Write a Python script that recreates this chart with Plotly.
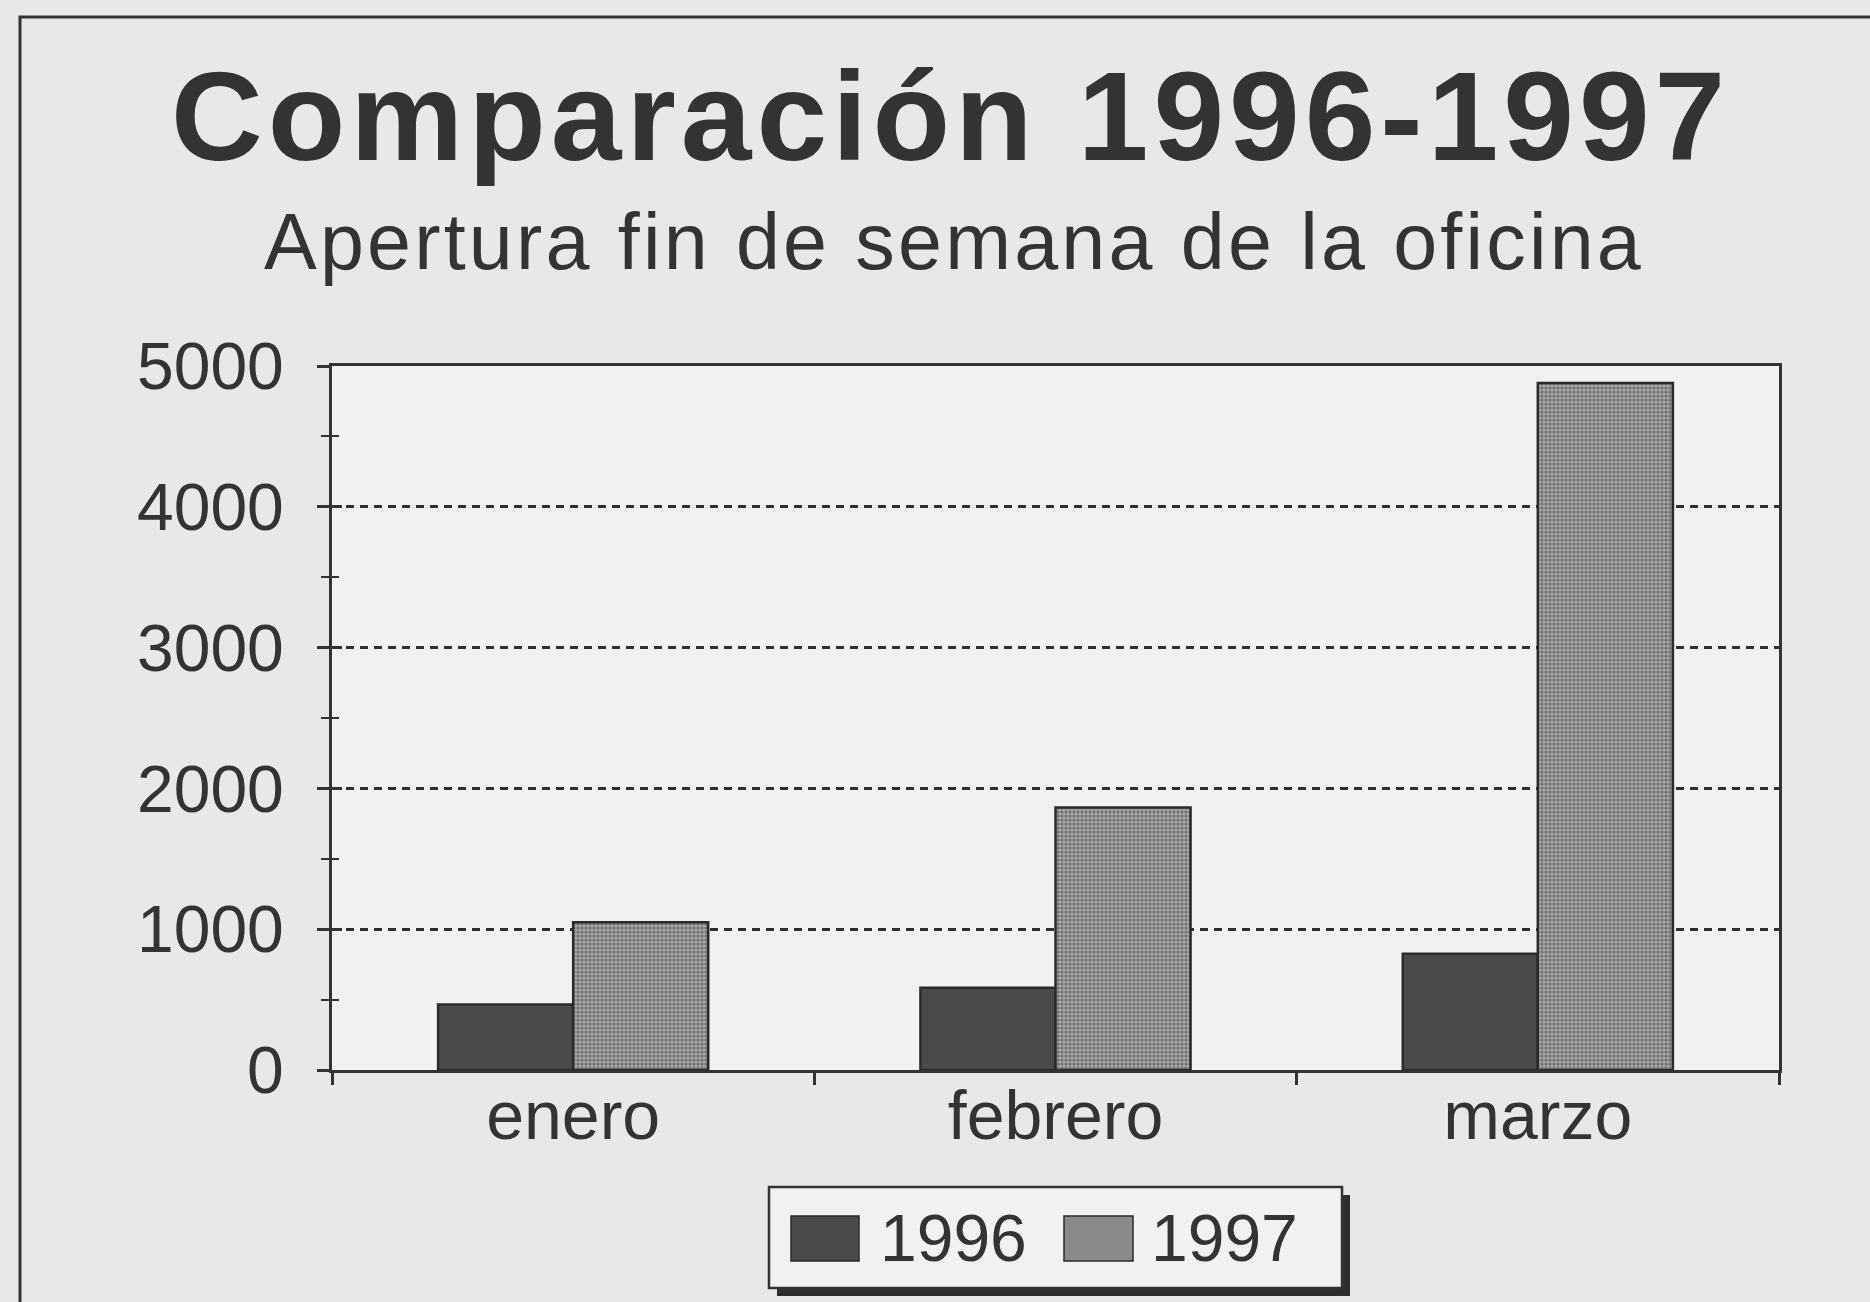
import plotly.graph_objects as go

# ---- data ----
categories = ["enero", "febrero", "marzo"]
series_names = ["1996", "1997"]
values_1996 = [465, 585, 825]
values_1997 = [1050, 1865, 4880]
y_ticks = [0, 1000, 2000, 3000, 4000, 5000]
title_text = "Comparación 1996-1997"
subtitle_text = "Apertura fin de semana de la oficina"

# ---- layout geometry (pixels) ----
W, H = 1870, 1302
L, R, T, B = 332, 1870 - 1779, 366, 1302 - 1070
PW, PH = W - L - R, H - T - B


def px(x):
    return (x - L) / PW


def py(y):
    return (H - B - y) / PH


FONT = "Liberation Sans, Arial, Helvetica, sans-serif"
INK = "#333333"
DARK = "#4a4a4a"

fig = go.Figure()
fig.add_trace(go.Bar(
    x=categories, y=values_1996, name=series_names[0],
    marker=dict(color=DARK, line=dict(color="#2a2a2a", width=2.5)),
))
fig.add_trace(go.Bar(
    x=categories, y=values_1997, name=series_names[1],
    marker=dict(color="#a2a2a2", line=dict(color="#2a2a2a", width=2.5),
                pattern=dict(shape=".", fgcolor="#3c3c3c", bgcolor="#a6a6a6",
                             size=4, solidity=0.5)),
))
# carrier for the inner half of the crossing value-axis ticks (no marks)
fig.add_trace(go.Scatter(x=[], y=[], yaxis="y2", showlegend=False, hoverinfo="skip"))

shapes = []
# outer frame of the picture (extends past right/bottom edge)
shapes.append(dict(type="rect", xref="paper", yref="paper",
                   x0=px(20), x1=px(1900), y0=py(1330), y1=py(17),
                   line=dict(color=INK, width=3), layer="below"))
# legend box with shadow
lx0, lx1, ly0, ly1 = 769, 1342, 1187, 1288
shapes.append(dict(type="rect", xref="paper", yref="paper",
                   x0=px(lx0 + 8), x1=px(lx1 + 8), y0=py(ly1 + 8), y1=py(ly0 + 8),
                   fillcolor="#2e2e2e", line=dict(width=0)))
shapes.append(dict(type="rect", xref="paper", yref="paper",
                   x0=px(lx0), x1=px(lx1), y0=py(ly1), y1=py(ly0),
                   fillcolor="#f1f1f1", line=dict(color=INK, width=2.5)))
# legend swatches
shapes.append(dict(type="rect", xref="paper", yref="paper",
                   x0=px(791), x1=px(859), y0=py(1261), y1=py(1216),
                   fillcolor=DARK, line=dict(color="#2a2a2a", width=1.5)))
shapes.append(dict(type="rect", xref="paper", yref="paper",
                   x0=px(1064), x1=px(1133), y0=py(1261), y1=py(1216),
                   fillcolor="#8a8a8a", line=dict(color="#2a2a2a", width=1.5)))

annotations = [
    dict(text='<b><span style="letter-spacing:5px">' + title_text + "</span></b>",
         xref="paper", yref="paper",
         x=px(950), y=py(116), xanchor="center", yanchor="middle",
         showarrow=False, font=dict(family=FONT, size=127, color=INK)),
    dict(text='<span style="letter-spacing:3.2px">' + subtitle_text + "</span>",
         xref="paper", yref="paper",
         x=px(954), y=py(241), xanchor="center", yanchor="middle",
         showarrow=False, font=dict(family=FONT, size=79, color=INK)),
    dict(text=series_names[0], xref="paper", yref="paper",
         x=px(878), y=py(1238), xanchor="left", yanchor="middle",
         showarrow=False, font=dict(family=FONT, size=66, color=INK)),
    dict(text=series_names[1], xref="paper", yref="paper",
         x=px(1149), y=py(1238), xanchor="left", yanchor="middle",
         showarrow=False, font=dict(family=FONT, size=66, color=INK)),
]

fig.update_layout(
    width=W, height=H,
    margin=dict(l=L, r=R, t=T, b=B, pad=0),
    paper_bgcolor="#e8e8e8",
    plot_bgcolor="#f1f1f1",
    barmode="group",
    bargap=0.44,
    bargroupgap=0,
    showlegend=False,
    font=dict(family=FONT, color=INK, size=66),
    shapes=shapes,
    annotations=annotations,
)
fig.update_xaxes(
    type="category", tickson="boundaries",
    ticks="outside", ticklen=12, tickwidth=3, tickcolor=INK,
    showline=True, linecolor=INK, linewidth=3, mirror=True,
    showgrid=False, tickfont=dict(size=68, color=INK),
    ticklabelstandoff=-16,
)
fig.update_layout(yaxis=dict(
    range=[0, 5000], tickvals=y_ticks, ticktext=[str(v) for v in y_ticks],
    ticks="outside", ticklen=12, tickwidth=3, tickcolor=INK,
    minor=dict(dtick=500, ticks="outside", ticklen=8, tickwidth=2, tickcolor=INK, showgrid=False),
    showline=True, linecolor=INK, linewidth=3, mirror=True,
    showgrid=True, gridcolor="#2f2f2f", gridwidth=3, griddash="8px,6px",
    zeroline=False, tickfont=dict(size=66, color=INK),
    ticklabelstandoff=20,
))
# inner half of the crossing tick marks on the value axis
fig.update_layout(yaxis2=dict(
    overlaying="y", side="left", range=[0, 5000],
    tickvals=y_ticks, ticks="inside", ticklen=10, tickwidth=3, tickcolor=INK,
    minor=dict(dtick=500, ticks="inside", ticklen=7, tickwidth=2, tickcolor=INK, showgrid=False),
    showticklabels=False, showgrid=False, showline=False, zeroline=False,
))

fig.write_html(
    "out.html",
    config={"displayModeBar": False, "staticPlot": True},
    post_script="document.body.style.margin='0';document.body.style.background='#e8e8e8';",
)
